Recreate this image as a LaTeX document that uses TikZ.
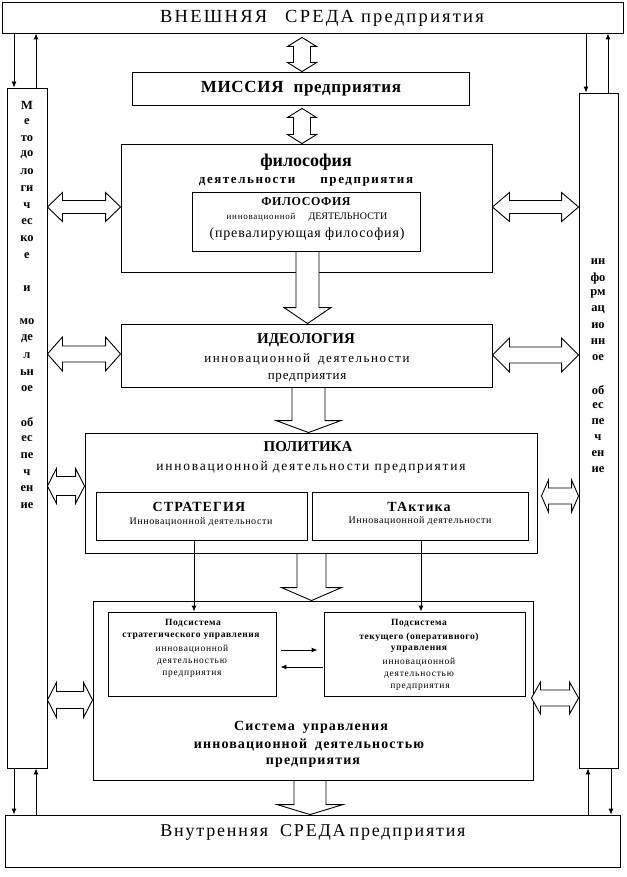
\documentclass[tikz,border=0pt]{standalone}
\usepackage{fontspec}
\setmainfont{Liberation Serif}
\usetikzlibrary{calc,arrows.meta}
\newcommand\fs[1]{\fontsize{#1}{#1}\selectfont}
\newcommand\lsp[1]{\addfontfeatures{LetterSpace=#1}}
\tikzset{
 box/.style={draw, line width=0.9pt, inner sep=0pt, fill=white},
 txt/.style={inner sep=0pt, anchor=center},
 blk/.style={draw, fill=white, line width=0.9pt, line join=miter},
 thinarr/.style={line width=0.9pt, -{Latex[length=6pt,width=5pt]}},
 colt/.style={inner sep=0pt, anchor=center, font=\bfseries\fs{12.5}},
 subt/.style={inner sep=0pt, anchor=center, font=\fs{9.5}\lsp{8}},
 subb/.style={inner sep=0pt, anchor=center, font=\bfseries\fs{9.5}\lsp{6}},
}
% double vertical block arrow: #1 top tip, #2 bottom tip, #3 shaft half, #4 head half, #5 head length
\newcommand\dArrV[5]{\path[blk] let \p1=#1, \p2=#2 in
 (\x1,\y1) -- (\x1+#4pt,\y1-#5pt) -- (\x1+#3pt,\y1-#5pt) -- (\x1+#3pt,\y2+#5pt) -- (\x1+#4pt,\y2+#5pt) -- (\x1,\y2) -- (\x1-#4pt,\y2+#5pt) -- (\x1-#3pt,\y2+#5pt) -- (\x1-#3pt,\y1-#5pt) -- (\x1-#4pt,\y1-#5pt) -- cycle;}
% double horizontal block arrow: #1 left tip, #2 right tip
\newcommand\dArrH[5]{\path[blk] let \p1=#1, \p2=#2 in
 (\x1,\y1) -- (\x1+#5pt,\y1+#4pt) -- (\x1+#5pt,\y1+#3pt) -- (\x2-#5pt,\y1+#3pt) -- (\x2-#5pt,\y1+#4pt) -- (\x2,\y1) -- (\x2-#5pt,\y1-#4pt) -- (\x2-#5pt,\y1-#3pt) -- (\x1+#5pt,\y1-#3pt) -- (\x1+#5pt,\y1-#4pt) -- cycle;}
% single downward block arrow: #1 shaft start (centre), #2 tip
\newcommand\sArrD[5]{\path[blk] let \p1=#1, \p2=#2 in
 (\x1-#3pt,\y1) -- (\x1-#3pt,\y2+#5pt) -- (\x1-#4pt,\y2+#5pt) -- (\x1,\y2) -- (\x1+#4pt,\y2+#5pt) -- (\x1+#3pt,\y2+#5pt) -- (\x1+#3pt,\y1) -- cycle;}
\begin{document}
\begin{tikzpicture}[x=1pt,y=-1pt]
\path[fill=white] (0,0) rectangle (626,877);
\useasboundingbox (0,0) rectangle (626,877);
% boxes
\node[box, minimum width=621pt, minimum height=31pt] (top) at (312.5,17.5) {};
\node[box, minimum width=40pt, minimum height=680pt] (lcol) at (27,428) {};
\node[box, minimum width=39pt, minimum height=675pt] (rcol) at (598.5,430.5) {};
\node[box, minimum width=615pt, minimum height=52pt] (bot) at (312.5,841) {};
\node[box, minimum width=337pt, minimum height=33pt] (mis) at (300.5,88.5) {};
\node[box, minimum width=371pt, minimum height=128pt] (phil) at (306.5,208) {};
\node[box, minimum width=228pt, minimum height=59pt] (philin) at (306,221.5) {};
\node[box, minimum width=371pt, minimum height=63pt] (ideo) at (306.5,355.5) {};
\node[box, minimum width=452pt, minimum height=120pt] (pol) at (311,493) {};
\node[box, minimum width=211pt, minimum height=48pt] (strat) at (201.5,516) {};
\node[box, minimum width=216pt, minimum height=48pt] (tact) at (420,516) {};
\node[box, minimum width=440pt, minimum height=179pt] (sys) at (313,690.5) {};
\node[box, minimum width=168pt, minimum height=84pt] (subL) at (192,654) {};
\node[box, minimum width=201pt, minimum height=84pt] (subR) at (424.5,654) {};
% texts
\node[txt, font=\fs{18.5}\lsp{12}] (tT) at (322,18) {ВНЕШНЯЯ\hspace{18pt}СРЕДА\hspace{7pt}предприятия};
\node[txt, font=\bfseries\fs{17}\lsp{4}] (misT) at (301,89) {МИССИЯ\hspace{10pt}предприятия};
\node[txt, font=\bfseries\fs{18}] (phA) at (306,162) {философия};
\node[txt, font=\bfseries\fs{13}\lsp{12}] (phB) at (306,182) {деятельности\hspace{25pt}предприятия};
\node[txt, font=\bfseries\fs{12}\lsp{5}] (phC) at (306,202) {ФИЛОСОФИЯ};
\node[txt] (phD) at (307,217) {{\fs{9}\lsp{8}инновационной}\hspace{13pt}{\fs{10}ДЕЯТЕЛЬНОСТИ}};
\node[txt, font=\fs{14}\lsp{6}] (phE) at (307,234) {(превалирующая философия)};
\node[txt, font=\bfseries\fs{15}] (idA) at (306,340) {ИДЕОЛОГИЯ};
\node[txt, font=\fs{13}\lsp{12}] (idB) at (307,359) {инновационной\hspace{8pt}деятельности};
\node[txt, font=\fs{13}\lsp{6}] (idC) at (307,378) {предприятия};
\node[txt, font=\bfseries\fs{15}] (poA) at (308,447) {ПОЛИТИКА};
\node[txt, font=\fs{13.5}\lsp{13}] (poB) at (311,467) {инновационной деятельности предприятия};
\node[txt, font=\bfseries\fs{14}\lsp{8}] (stA) at (199,507) {СТРАТЕГИЯ};
\node[txt, font=\fs{10}\lsp{6}] (stB) at (201,522) {Инновационной деятельности};
\node[txt, font=\bfseries\fs{14}\lsp{8}] (taA) at (419,507) {ТАктика};
\node[txt, font=\fs{10}\lsp{6}] (taB) at (420,521) {Инновационной деятельности};
\node[subb] (sLA) at (193,623) {Подсистема};
\node[subb] (sLB) at (191,636) {стратегического управления};
\node[subt] (sLC) at (192,649) {инновационной};
\node[subt] (sLD) at (192,662) {деятельностью};
\node[subt] (sLE) at (192,674) {предприятия};
\node[subb] (sRA) at (419,623) {Подсистема};
\node[subb] (sRB) at (419,637) {текущего (оперативного)};
\node[subb] (sRC) at (419,649) {управления};
\node[subt] (sRD) at (419,662) {инновационной};
\node[subt] (sRE) at (419,675) {деятельностью};
\node[subt] (sRF) at (420,687) {предприятия};
\node[txt, font=\bfseries\fs{14}\lsp{8}] (syA) at (311,727) {Система\hspace{8pt}управления};
\node[txt, font=\bfseries\fs{14}\lsp{8}] (syB) at (309,745) {инновационной\hspace{8pt}деятельностью};
\node[txt, font=\bfseries\fs{14}\lsp{8}] (syC) at (313,763) {предприятия};
\node[txt, font=\fs{18}\lsp{10}] (bT) at (313,832) {Внутренняя\hspace{12pt}СРЕДА\hspace{4pt}предприятия};
% column texts
\foreach [count=\i from 0] \s in {М,е,то,до,ло,ги,ч,ес,ко,е,{},и,{},мо,де,л,ьн,ое,{},об,ес,пе,ч,ен,ие}
  \node[colt] (lc\i) at (27,105+16.7*\i) {\s};
\foreach [count=\i from 0] \s in {ин,фо,рм,ац,ио,нн,ое,{},об,ес,пе,ч,ен,ие}
  \node[colt] (rc\i) at (598,262+16*\i) {\s};
% thin arrows
\draw[thinarr] (top.south -| 14,0) -- (lcol.north -| 14,0);
\draw[thinarr] (lcol.north -| 36,0) -- (top.south -| 36,0);
\draw[thinarr] (top.south -| 586,0) -- (rcol.north -| 586,0);
\draw[thinarr] (rcol.north -| 608,0) -- (top.south -| 608,0);
\draw[thinarr] (lcol.south -| 14,0) -- (bot.north -| 14,0);
\draw[thinarr] (bot.north -| 36,0) -- (lcol.south -| 36,0);
\draw[thinarr] (bot.north -| 588,0) -- (rcol.south -| 588,0);
\draw[thinarr] (rcol.south -| 611,0) -- (bot.north -| 611,0);
\draw[thinarr] (strat.south -| 194,0) -- (subL.north -| 194,0);
\draw[thinarr] (tact.south -| 421,0) -- (subR.north -| 421,0);
\draw[thinarr] ($(subL.east |- 0,650)+(5,0)$) -- ($(subR.west |- 0,650)+(-6,0)$);
\draw[thinarr] ($(subR.west |- 0,667)+(-1,0)$) -- ($(subL.east |- 0,667)+(4,0)$);
% block arrows
\dArrV{($(top.south -| 302,0)+(0,4)$)}{(mis.north -| 302,0)}{8.5}{14.5}{9}
\dArrV{($(mis.south -| 302,0)+(0,3)$)}{(phil.north -| 302,0)}{8.5}{14.5}{9}
\sArrD{(philin.south -| 307.5,0)}{(ideo.north -| 307.5,0)}{11.5}{23.5}{16}
\sArrD{(ideo.south -| 308.5,0)}{(pol.north -| 308.5,0)}{16.5}{32.5}{12}
\sArrD{(pol.south -| 311.5,0)}{(sys.north -| 311.5,0)}{14.5}{30}{13}
\sArrD{(sys.south -| 310,0)}{(bot.north -| 310,0)}{16}{33}{10}
\dArrH{(lcol.east |- 0,207)}{(phil.west |- 0,207)}{6.5}{14.5}{15}
\dArrH{(phil.east |- 0,207)}{(rcol.west |- 0,207)}{6.5}{14.5}{17}
\dArrH{(lcol.east |- 0,354)}{(ideo.west |- 0,354)}{8}{17}{15}
\dArrH{(ideo.east |- 0,355)}{(rcol.west |- 0,355)}{8}{17}{17}
\dArrH{(lcol.east |- 0,486)}{(pol.west |- 0,486)}{9.5}{17.5}{9}
\dArrH{($(pol.east |- 0,496)+(4,0)$)}{(rcol.west |- 0,496)}{8}{16}{7}
\dArrH{(lcol.east |- 0,700)}{(sys.west |- 0,700)}{8.5}{17.5}{9}
\dArrH{($(sys.east |- 0,698)+(-2,0)$)}{(rcol.west |- 0,698)}{8}{16}{9}
\end{tikzpicture}
\end{document}
